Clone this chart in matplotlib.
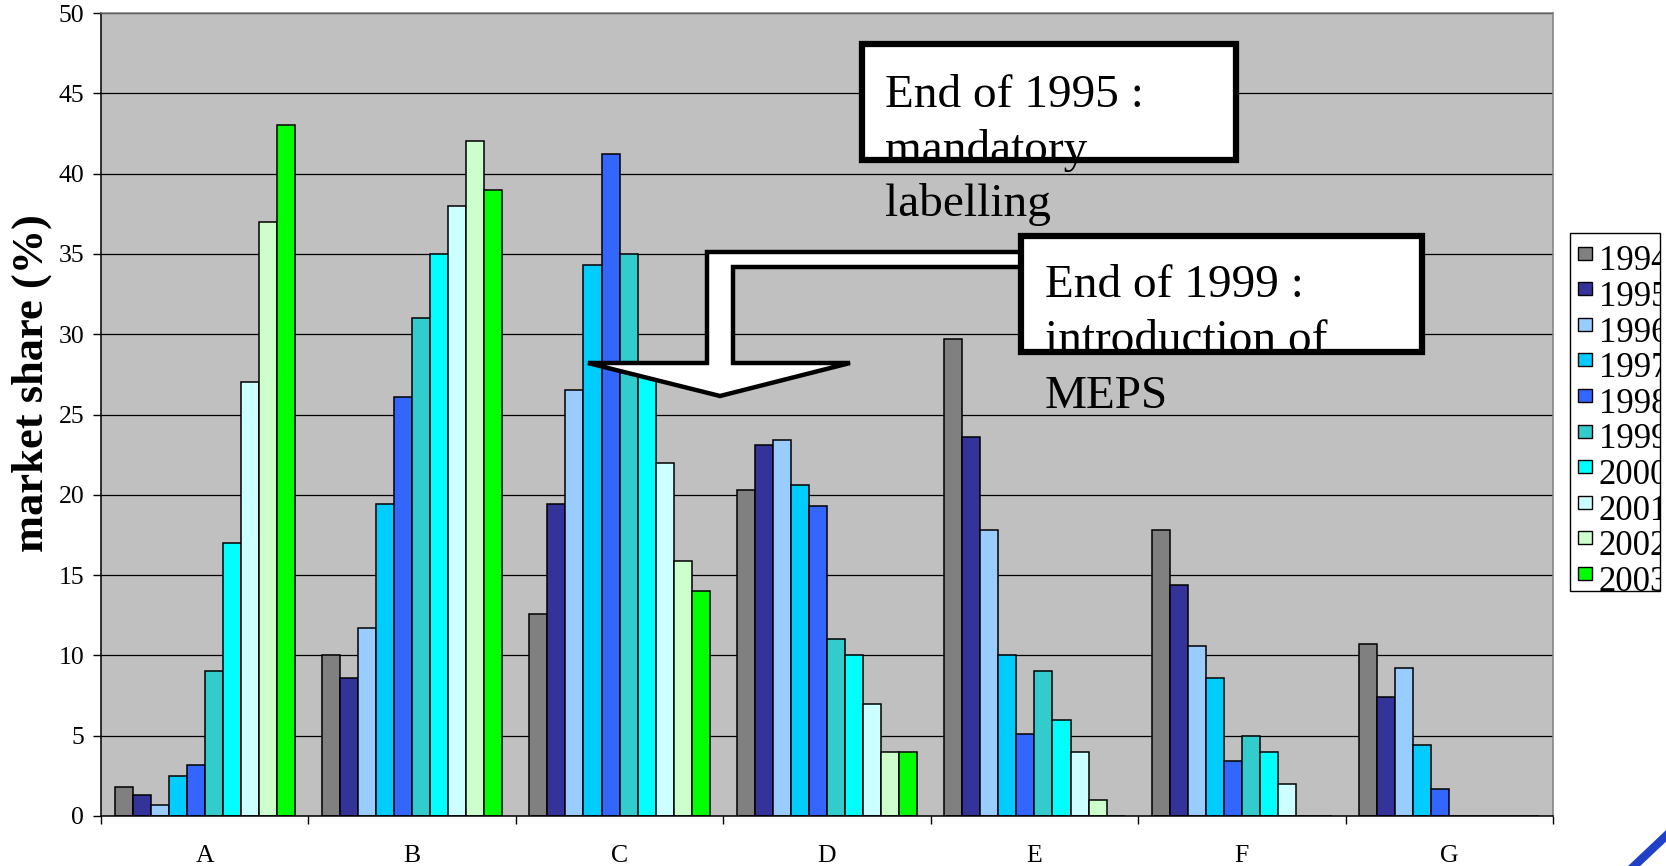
import numpy as np
import matplotlib
matplotlib.use("Agg")
import matplotlib.pyplot as plt
from matplotlib.patches import Rectangle, Polygon
from matplotlib.lines import Line2D
from matplotlib.transforms import Bbox, TransformedBbox

plt.rcParams['font.family'] = ['Liberation Serif', 'DejaVu Serif']

# ---- data ----
categories = ['A', 'B', 'C', 'D', 'E', 'F', 'G']
years = ['1994', '1995', '1996', '1997', '1998', '1999', '2000', '2001', '2002', '2003']
s1994 = [1.8, 10.0, 12.6, 20.3, 29.7, 17.8, 10.7]
s1995 = [1.3, 8.6, 19.4, 23.1, 23.6, 14.4, 7.4]
s1996 = [0.7, 11.7, 26.5, 23.4, 17.8, 10.6, 9.2]
s1997 = [2.5, 19.4, 34.3, 20.6, 10.0, 8.6, 4.4]
s1998 = [3.2, 26.1, 41.2, 19.3, 5.1, 3.4, 1.7]
s1999 = [9.0, 31.0, 35.0, 11.0, 9.0, 5.0, 0]
s2000 = [17.0, 35.0, 28.0, 10.0, 6.0, 4.0, 0]
s2001 = [27.0, 38.0, 22.0, 7.0, 4.0, 2.0, 0]
s2002 = [37.0, 42.0, 15.9, 4.0, 1.0, 0, 0]
s2003 = [43.0, 39.0, 14.0, 4.0, 0, 0, 0]
series = [s1994, s1995, s1996, s1997, s1998, s1999, s2000, s2001, s2002, s2003]
colors = ['#808080', '#333399', '#99CCFF', '#00CCFF', '#3366FF',
          '#33CCCC', '#00FFFF', '#CCFFFF', '#CCFFCC', '#00FF00']

W, H = 1666, 866

def fx(x):
    return x / W

def fy(y):
    return 1 - y / H

fig = plt.figure(figsize=(W / 100, H / 100), dpi=100)
fig.patch.set_facecolor('white')
ax = fig.add_axes([fx(101), fy(816), (1553 - 101) / W, (816 - 13) / H])
ax.set_facecolor('#C0C0C0')

x = np.arange(len(categories))
bw = 1 / 11.5
for i, (vals, c) in enumerate(zip(series, colors)):
    ax.bar(x + (i - 4.5) * bw, vals, bw, color=c, edgecolor='black',
           linewidth=1.1, zorder=2)

ax.set_xlim(-0.5, len(categories) - 0.5)
ax.set_ylim(0, 50)
ax.set_yticks(np.arange(0, 51, 5))
ax.yaxis.grid(True, color='#000000', linewidth=0.9)
ax.set_axisbelow(True)
ax.tick_params(axis='y', labelsize=18.5, length=6, width=1, pad=6, direction='out')

ax.set_xticks(np.arange(-0.5, len(categories)), labels=[''] * (len(categories) + 1))
ax.set_xticks(x, labels=categories, minor=True)
ax.tick_params(axis='x', which='major', length=6, width=1, direction='out')
ax.tick_params(axis='x', which='minor', length=0, labelsize=18.5, pad=21)

for s in ['left', 'bottom']:
    ax.spines[s].set_color('black')
    ax.spines[s].set_linewidth(1.1)
for s in ['top', 'right']:
    ax.spines[s].set_color('#808080')
    ax.spines[s].set_linewidth(1.1)

fig.text(fx(32), fy(383), 'market share (%)', rotation=90, ha='center',
         va='center', fontsize=32, fontweight='bold')

# ---- bent arrow ----
arrow_pts = [(1025, 252), (707, 252), (707, 363), (588, 363), (720, 396),
             (850, 363), (733, 363), (733, 267), (1025, 267)]
fig.patches.append(Polygon([(fx(a), fy(b)) for a, b in arrow_pts], closed=True,
                           facecolor='white', edgecolor='black', linewidth=3.2,
                           joinstyle='miter', transform=fig.transFigure, zorder=4))

# ---- annotation boxes ----
fig.patches.append(Rectangle((fx(862), fy(160)), (1236 - 862) / W, (160 - 44) / H,
                             facecolor='white', edgecolor='black', linewidth=4.5,
                             transform=fig.transFigure, zorder=5))
fig.patches.append(Rectangle((fx(1021), fy(352)), (1422 - 1021) / W, (352 - 236) / H,
                             facecolor='white', edgecolor='black', linewidth=4.5,
                             transform=fig.transFigure, zorder=5))

note1 = ['End of 1995 :', 'mandatory', 'labelling']
note2 = ['End of 1999 :', 'introduction of', 'MEPS']
for j, line in enumerate(note1):
    fig.text(fx(885), fy(107 + 54.5 * j), line, fontsize=34, ha='left',
             va='baseline', zorder=6)
for j, line in enumerate(note2):
    fig.text(fx(1045), fy(297 + 55.5 * j), line, fontsize=34, ha='left',
             va='baseline', zorder=6)

# ---- legend ----
lx0, lx1, ly0, ly1 = 1570, 1660, 233, 591
fig.patches.append(Rectangle((fx(lx0), fy(ly1)), (lx1 - lx0) / W, (ly1 - ly0) / H,
                             facecolor='white', edgecolor='black', linewidth=1,
                             transform=fig.transFigure, zorder=5))
clip = TransformedBbox(Bbox.from_extents(fx(lx0), fy(ly1), fx(lx1), fy(ly0)),
                       fig.transFigure)
for i, (yr, c) in enumerate(zip(years, colors)):
    cy = 253 + 35.6 * i
    fig.patches.append(Rectangle((fx(1578), fy(cy + 6.5)), 14 / W, 13 / H,
                                 facecolor=c, edgecolor='black', linewidth=1,
                                 transform=fig.transFigure, zorder=6))
    t = fig.text(fx(1599), fy(cy + 17.5), yr, fontsize=25, ha='left',
                 va='baseline', zorder=6)
    t.set_clip_box(clip)
    t.set_clip_on(True)

# corner decoration
fig.lines.append(Line2D([fx(1632), fx(1668)], [fy(868), fy(834)], color='#2040C8',
                        linewidth=6, transform=fig.transFigure))

fig.savefig('out.png', dpi=100)
